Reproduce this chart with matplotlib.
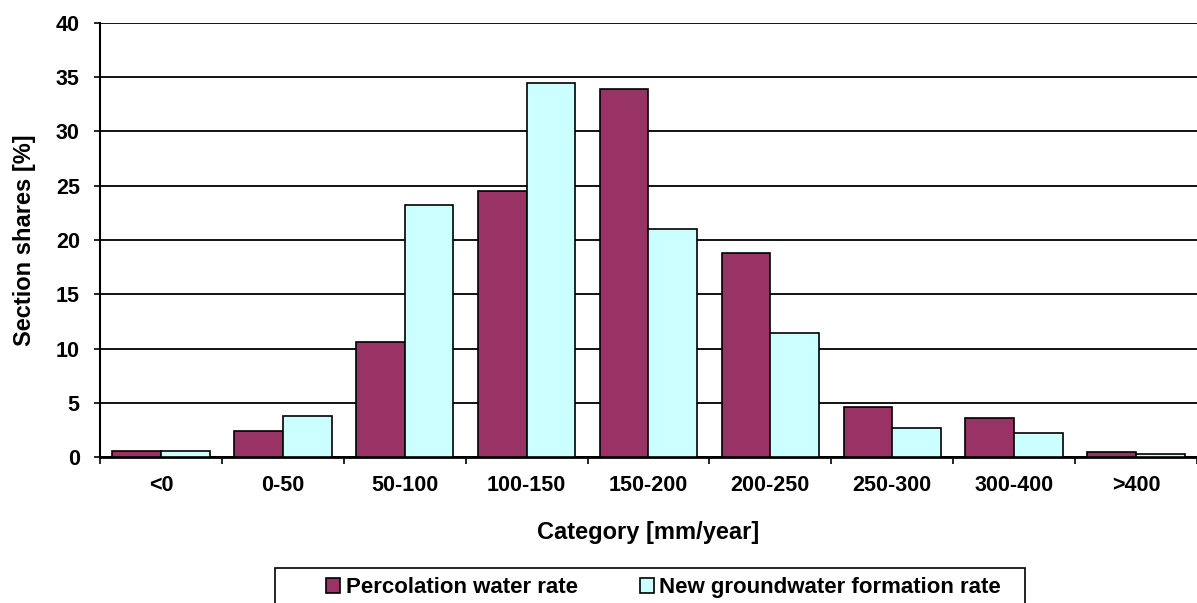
import matplotlib

matplotlib.use("Agg")
import matplotlib.pyplot as plt
import numpy as np
from matplotlib.patches import Rectangle

categories = ["<0", "0-50", "50-100", "100-150", "150-200", "200-250", "250-300", "300-400", ">400"]
percolation = [0.55, 2.4, 10.6, 24.5, 33.9, 18.8, 4.6, 3.6, 0.5]
groundwater = [0.55, 3.75, 23.2, 34.5, 21.0, 11.4, 2.7, 2.25, 0.3]

plt.rcParams["font.family"] = ["Liberation Sans", "DejaVu Sans"]
plt.rcParams["font.weight"] = "bold"

fig = plt.figure(figsize=(11.97, 6.03), dpi=100)
ax = fig.add_axes([0.0835, 0.242, 0.9165, 0.72])

x = np.arange(len(categories))
w = 0.4
ax.bar(x - w / 2, percolation, width=w, color="#993366", edgecolor="black", linewidth=1.2,
       label="Percolation water rate", zorder=3)
ax.bar(x + w / 2, groundwater, width=w, color="#CCFFFF", edgecolor="black", linewidth=1.2,
       label="New groundwater formation rate", zorder=3)

ax.set_xlim(-0.5, len(categories) - 0.5)
ax.set_ylim(0, 40)
ax.set_yticks(range(0, 41, 5))
ax.yaxis.grid(True, color="black", linewidth=1.3, zorder=0)
ax.set_xticks(x)
ax.set_xticklabels(categories)
ax.set_xticks(np.arange(-0.5, len(categories), 1), minor=True)
ax.tick_params(axis="x", which="major", length=0, pad=13, labelsize=15.5)
ax.tick_params(axis="x", which="minor", length=5, width=1.2, direction="out")
ax.tick_params(axis="y", length=4.5, width=1.2, labelsize=15.5, pad=10)

for side in ["top", "right"]:
    ax.spines[side].set_visible(False)
ax.spines["left"].set_linewidth(1.5)
ax.spines["bottom"].set_linewidth(2)

ax.set_ylabel("Section shares [%]", fontsize=17, fontweight="bold")
ax.yaxis.set_label_coords(-0.058, 0.5)
ax.set_xlabel("Category [mm/year]", fontsize=17, fontweight="bold")
ax.xaxis.set_label_coords(0.5, -0.148)

# legend entries (frameless) plus the box that Excel draws around them
leg = fig.legend(*ax.get_legend_handles_labels(), loc="center",
                 bbox_to_anchor=(0.5543, 0.0249), ncols=2, frameon=False,
                 handlelength=0.64, handleheight=0.64, handletextpad=0.23,
                 columnspacing=2.8, borderpad=0, borderaxespad=0,
                 prop={"weight": "bold", "size": 16})
for h in leg.legend_handles:
    h.set_linewidth(1.2)
fig.add_artist(Rectangle((0.2297, -0.05), 0.8563 - 0.2297, 0.108, transform=fig.transFigure,
                         fill=False, edgecolor="black", linewidth=1.2, clip_on=False))

fig.savefig("out.png", dpi=100)
